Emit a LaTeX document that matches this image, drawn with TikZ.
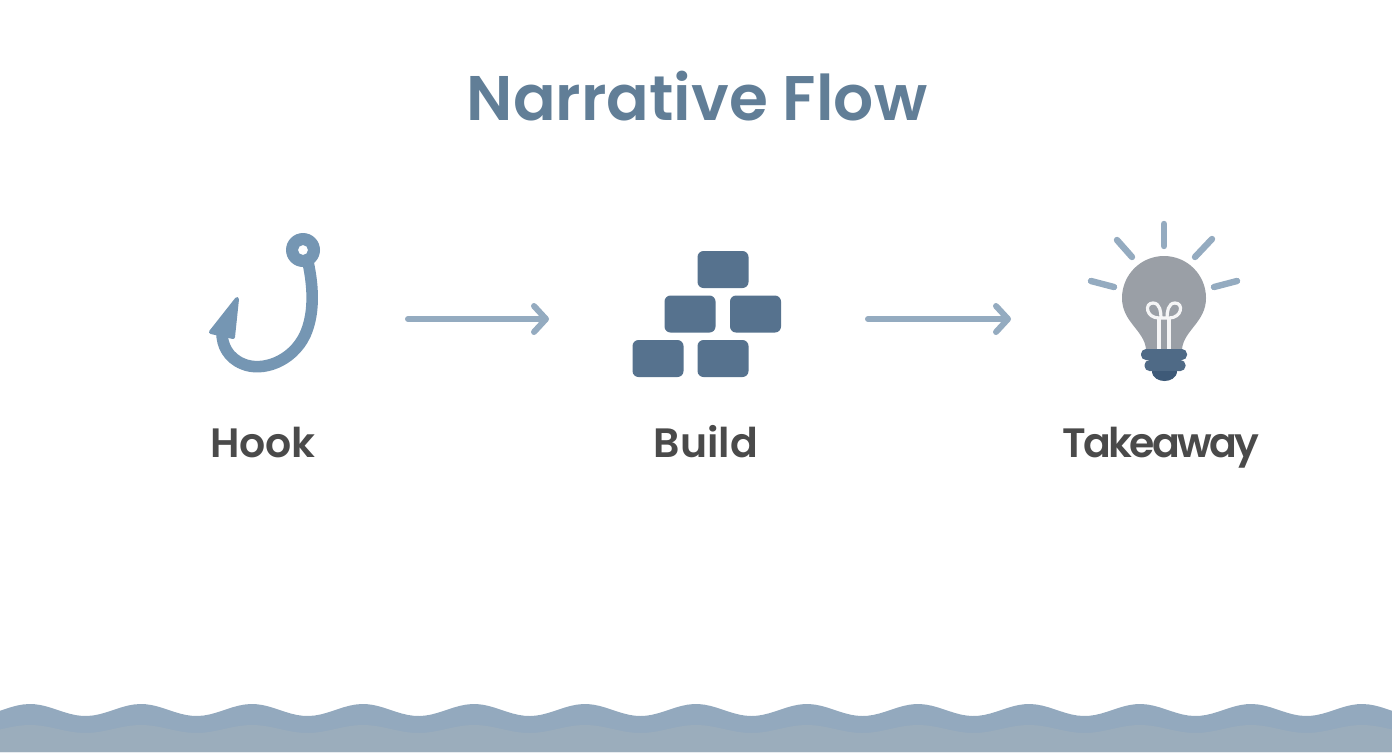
\documentclass[tikz,border=0pt]{standalone}
\usepackage{fontspec}
\setmainfont{Poppins}[BoldFont={* SemiBold}]
\usepackage{xcolor}
\usetikzlibrary{arrows.meta}
\definecolor{titlecolor}{HTML}{617E97}
\definecolor{labelcolor}{HTML}{4A4A4A}
\definecolor{hookcolor}{HTML}{7596B3}
\definecolor{arrowcolor}{HTML}{94ABC0}
\definecolor{brickcolor}{HTML}{56728E}
\definecolor{bulbcolor}{HTML}{9A9FA6}
\definecolor{fitcolor}{HTML}{4F6A86}
\definecolor{tipcolor}{HTML}{3E5A78}
\definecolor{waveback}{HTML}{93A9BE}
\definecolor{wavefront}{HTML}{9BADBC}
\tikzset{
  brick/.style={fill=brickcolor,rounded corners=3pt,inner sep=0pt,minimum width=25.5pt,minimum height=18.5pt},
  steplabel/.style={text=labelcolor,anchor=base,font=\bfseries\fontsize{20.5}{24}\selectfont},
  flowarrow/.style={arrowcolor,line width=3pt,line cap=round,-{Straight Barb[length=6pt,width=13pt,round]}},
  ray/.style={arrowcolor,line width=3.2pt,line cap=round},
  fitting/.style={rounded corners=2.5pt,inner sep=0pt}
}
\begin{document}
\begin{tikzpicture}[x=0.5pt,y=-0.5pt]
\useasboundingbox (0,0) rectangle (1392,752);
\fill[white] (0,0) rectangle (1392,752);
%% title
\node[anchor=base] (title) at (697,120) {\textcolor{titlecolor}{\bfseries\fontsize{31.5}{38}\selectfont Narrative Flow}};
%% hook
\draw[hookcolor,line width=5.8pt] (308,262) .. controls (314,290) and (314,315) .. (305,335)
   .. controls (292,362) and (262,372) .. (243,364) .. controls (228,358) and (222,345) .. (222,333);
\fill[hookcolor,draw=hookcolor,line width=2pt,line join=round] (237,299) -- (211,332) -- (233,337) -- cycle;
\fill[hookcolor,even odd rule] (303,250) circle [radius=17] (303,250) circle [radius=5];
\node[steplabel] (hook) at (263,457) {Hook};
%% bricks
\node[brick] (b1) at (723,269.5) {};
\node[brick] (b2) at (690,314) {};
\node[brick] (b3) at (755.5,314) {};
\node[brick] (b4) at (658,358.5) {};
\node[brick] (b5) at (723,358.5) {};
\node[steplabel] (build) at (706,457) {Build};
%% bulb
\fill[bulbcolor] (1146,349) .. controls (1144,330) and (1122,322) .. (1122,298)
   arc [start angle=180,end angle=360,radius=42] .. controls (1206,322) and (1184,330) .. (1182,349) -- cycle;
\foreach \sx in {1159,1169}
   \draw[white!90!bulbcolor,line width=1.6pt] (\sx,349) -- (\sx,318);
\draw[white!90!bulbcolor,line width=1.6pt] (1159,318) .. controls (1146,318) and (1144,303) .. (1153,303)
   .. controls (1160,303) and (1161,312) .. (1161,318) -- (1167,318) .. controls (1167,312) and (1168,303) .. (1175,303)
   .. controls (1184,303) and (1182,318) .. (1169,318);
\node[fitting,fill=fitcolor,minimum width=23pt,minimum height=5.5pt] (fit1) at (1164,354.5) {};
\node[fitting,fill=fitcolor,minimum width=20.5pt,minimum height=5.5pt] (fit2) at (1165,365.5) {};
\fill[tipcolor] (1152,371) -- (1177,371) .. controls (1177,378) and (1170,381) .. (1164.5,381) .. controls (1159,381) and (1152,378) .. (1152,371) -- cycle;
\draw[ray] (1164,224) -- (1164,246);
\draw[ray] (1117,240) -- (1132,257);
\draw[ray] (1212,239) -- (1195,257);
\draw[ray] (1091,281) -- (1114,287);
\draw[ray] (1237,281) -- (1214,287);
\node[steplabel] (takeaway) at (1161,457) {\addfontfeature{LetterSpace=-6.5}Takeaway};
%% arrows
\coordinate (a1) at (408,319);
\coordinate (a2) at (549,319);
\coordinate (a3) at (868,319);
\coordinate (a4) at (1011,319);
\draw[flowarrow] (a1) -- (a2);
\draw[flowarrow] (a3) -- (a4);
%% waves
\fill[waveback] (0,752) -- plot[domain=0:1392,samples=240] (\x,{710-6*cos((\x-30)/111*360)}) -- (1392,752) -- cycle;
\fill[wavefront] (0,752) -- plot[domain=0:1392,samples=240] (\x,{729-4*cos((\x-30)/111*360)}) -- (1392,752) -- cycle;
\end{tikzpicture}
\end{document}
